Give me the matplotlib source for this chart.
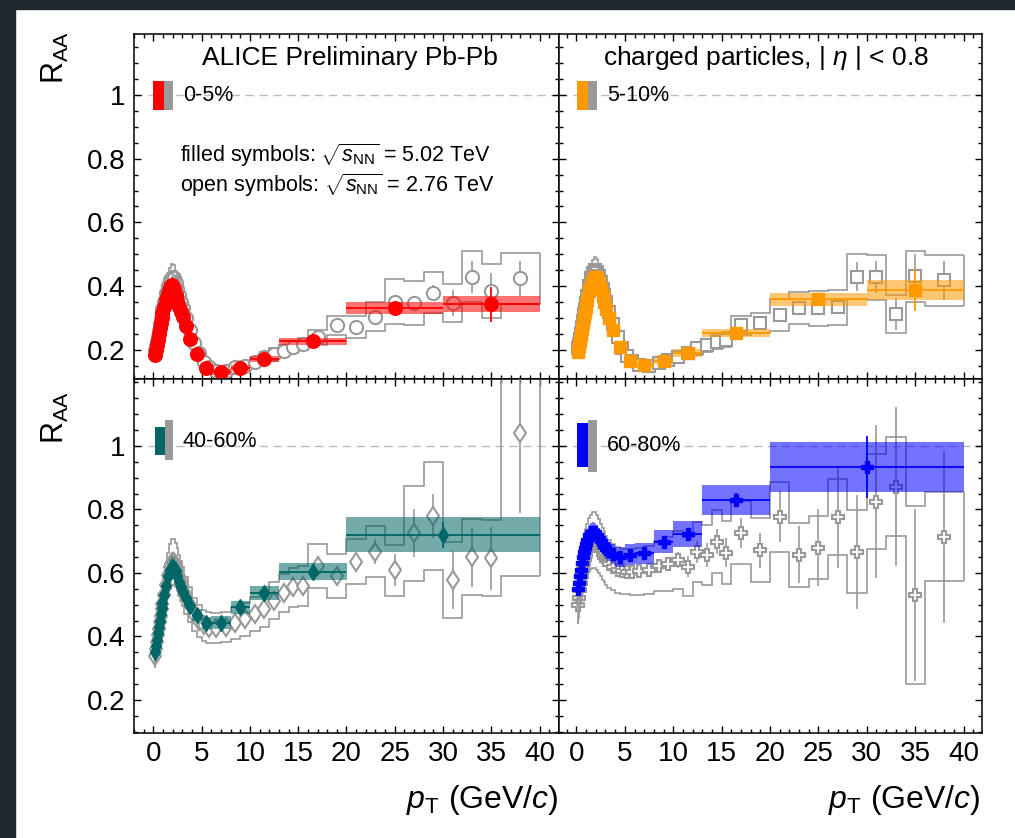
import numpy as np
import matplotlib
matplotlib.use("Agg")
import matplotlib.pyplot as plt
from matplotlib.patches import Rectangle
from matplotlib.ticker import MultipleLocator, FixedLocator

plt.rcParams['font.family'] = ['Liberation Sans', 'DejaVu Sans']
plt.rcParams['mathtext.fontset'] = 'custom'
plt.rcParams['mathtext.rm'] = 'Liberation Sans'
plt.rcParams['mathtext.it'] = 'Liberation Sans:italic'

# ---- 5.02 TeV (filled symbols): bin edges, R_AA, stat, sys
edges502_a = [0.15, 0.2, 0.3, 0.4, 0.5, 0.6, 0.7, 0.8, 0.9, 1.0, 1.2, 1.4, 1.6, 1.8, 2.0, 2.2, 2.4, 2.6,
              2.8, 3.0, 3.2, 3.6, 4.0, 5.0, 6.0, 8.0, 10.0, 13.0, 20.0, 30.0, 40.0]
edges502_b = [0.15, 0.2, 0.3, 0.4, 0.5, 0.6, 0.7, 0.8, 0.9, 1.0, 1.2, 1.4, 1.6, 1.8, 2.0, 2.2, 2.4, 2.6,
              2.8, 3.0, 3.2, 3.6, 4.0, 5.0, 6.0, 8.0, 10.0, 13.0, 20.0, 40.0]

raa502_0_5 = [0.185, 0.200, 0.215, 0.232, 0.250, 0.268, 0.285, 0.300, 0.315, 0.335, 0.360, 0.380, 0.396, 0.403,
              0.392, 0.372, 0.352, 0.334, 0.318, 0.303, 0.276, 0.234, 0.186, 0.143, 0.130, 0.143, 0.172, 0.227,
              0.332, 0.344]
stat502_0_5 = [0.002, 0.002, 0.002, 0.002, 0.002, 0.002, 0.002, 0.002, 0.002, 0.002, 0.002, 0.002, 0.002, 0.002,
               0.002, 0.002, 0.002, 0.002, 0.002, 0.002, 0.002, 0.002, 0.002, 0.002, 0.003, 0.003, 0.004, 0.006,
               0.018, 0.055]
sys502_0_5 = [0.013, 0.014, 0.015, 0.016, 0.017, 0.018, 0.019, 0.020, 0.021, 0.022, 0.023, 0.024, 0.025, 0.025,
              0.025, 0.024, 0.023, 0.022, 0.021, 0.020, 0.018, 0.015, 0.012, 0.010, 0.009, 0.009, 0.010, 0.010,
              0.020, 0.026]

raa502_5_10 = [0.195, 0.210, 0.228, 0.247, 0.266, 0.285, 0.303, 0.320, 0.335, 0.357, 0.385, 0.405, 0.420, 0.428,
               0.425, 0.410, 0.390, 0.370, 0.350, 0.330, 0.300, 0.263, 0.210, 0.165, 0.153, 0.166, 0.191, 0.254,
               0.359, 0.388]
stat502_5_10 = [0.002, 0.002, 0.002, 0.002, 0.002, 0.002, 0.002, 0.002, 0.002, 0.002, 0.002, 0.002, 0.002, 0.002,
                0.002, 0.002, 0.002, 0.002, 0.002, 0.002, 0.002, 0.002, 0.002, 0.002, 0.003, 0.003, 0.004, 0.006,
                0.017, 0.065]
sys502_5_10 = [0.014, 0.015, 0.016, 0.017, 0.018, 0.019, 0.020, 0.021, 0.022, 0.023, 0.025, 0.026, 0.027, 0.027,
               0.027, 0.026, 0.025, 0.024, 0.022, 0.021, 0.019, 0.016, 0.013, 0.011, 0.010, 0.010, 0.012, 0.012,
               0.020, 0.030]

raa502_40_60 = [0.350, 0.370, 0.390, 0.410, 0.430, 0.450, 0.470, 0.490, 0.505, 0.530, 0.560, 0.590, 0.610, 0.620,
                0.615, 0.605, 0.590, 0.572, 0.556, 0.540, 0.520, 0.496, 0.468, 0.442, 0.443, 0.492, 0.536, 0.604,
                0.720]
stat502_40_60 = [0.003, 0.003, 0.003, 0.003, 0.003, 0.003, 0.003, 0.003, 0.003, 0.003, 0.003, 0.003, 0.003, 0.003,
                 0.003, 0.003, 0.003, 0.003, 0.003, 0.003, 0.003, 0.003, 0.004, 0.004, 0.005, 0.006, 0.008, 0.012,
                 0.040]
sys502_40_60 = [0.022, 0.023, 0.024, 0.025, 0.026, 0.027, 0.028, 0.029, 0.030, 0.031, 0.032, 0.033, 0.034, 0.034,
                0.034, 0.033, 0.032, 0.031, 0.030, 0.029, 0.027, 0.025, 0.020, 0.020, 0.020, 0.020, 0.022, 0.026,
                0.055]

raa502_60_80 = [0.550, 0.570, 0.590, 0.610, 0.630, 0.650, 0.665, 0.680, 0.690, 0.705, 0.720, 0.728, 0.730, 0.728,
                0.720, 0.710, 0.700, 0.690, 0.682, 0.675, 0.668, 0.660, 0.651, 0.657, 0.662, 0.699, 0.723, 0.830,
                0.933]
stat502_60_80 = [0.004, 0.004, 0.004, 0.004, 0.004, 0.004, 0.004, 0.004, 0.004, 0.004, 0.004, 0.004, 0.004, 0.004,
                 0.004, 0.004, 0.004, 0.004, 0.004, 0.004, 0.004, 0.005, 0.005, 0.006, 0.007, 0.010, 0.015, 0.023,
                 0.097]
sys502_60_80 = [0.028, 0.029, 0.030, 0.030, 0.031, 0.031, 0.031, 0.031, 0.031, 0.031, 0.031, 0.031, 0.031, 0.031,
                0.031, 0.031, 0.031, 0.031, 0.031, 0.031, 0.031, 0.031, 0.032, 0.033, 0.033, 0.037, 0.040, 0.046,
                0.078]

# ---- 2.76 TeV (open symbols)
edges276 = [0.15, 0.2, 0.3, 0.4, 0.5, 0.6, 0.7, 0.8, 0.9, 1.0, 1.2, 1.4, 1.6, 1.8, 2.0, 2.2, 2.4, 2.6, 2.8, 3.0,
            3.2, 3.6, 4.0, 4.5, 5.0, 5.5, 6.0, 7.0, 8.0, 9.0, 10.0, 11.0, 12.0, 13.0, 14.0, 15.0, 16.0, 18.0, 20.0,
            22.0, 24.0, 26.0, 28.0, 30.0, 32.0, 34.0, 36.0, 40.0]

raa276_0_5 = [0.200, 0.212, 0.226, 0.242, 0.260, 0.280, 0.298, 0.315, 0.330, 0.352, 0.380, 0.402, 0.420, 0.430,
              0.425, 0.410, 0.392, 0.372, 0.352, 0.332, 0.300, 0.262, 0.222, 0.190, 0.162, 0.146, 0.133, 0.135,
              0.146, 0.151, 0.161, 0.177, 0.188, 0.198, 0.208, 0.219, 0.240, 0.278, 0.273, 0.305, 0.352, 0.347,
              0.380, 0.347, 0.430, 0.385, 0.425]
stat276_0_5 = [0.002, 0.002, 0.002, 0.002, 0.002, 0.002, 0.002, 0.002, 0.002, 0.002, 0.002, 0.002, 0.002, 0.002,
               0.002, 0.002, 0.002, 0.002, 0.002, 0.002, 0.002, 0.002, 0.002, 0.002, 0.002, 0.002, 0.002, 0.002,
               0.003, 0.003, 0.004, 0.004, 0.005, 0.005, 0.006, 0.006, 0.006, 0.008, 0.010, 0.012, 0.018, 0.020,
               0.025, 0.040, 0.050, 0.055, 0.055]
sys276_0_5 = [0.018, 0.019, 0.020, 0.022, 0.023, 0.025, 0.027, 0.028, 0.030, 0.032, 0.034, 0.036, 0.038, 0.040,
              0.040, 0.038, 0.036, 0.034, 0.032, 0.030, 0.027, 0.024, 0.020, 0.017, 0.015, 0.013, 0.012, 0.012,
              0.013, 0.014, 0.015, 0.016, 0.017, 0.018, 0.019, 0.020, 0.024, 0.030, 0.035, 0.045, 0.070, 0.070,
              0.065, 0.060, 0.080, 0.085, 0.080]

raa276_5_10 = [0.205, 0.218, 0.234, 0.252, 0.272, 0.292, 0.312, 0.330, 0.346, 0.370, 0.400, 0.425, 0.442, 0.450,
               0.446, 0.432, 0.412, 0.392, 0.372, 0.352, 0.320, 0.280, 0.240, 0.205, 0.180, 0.165, 0.152, 0.150,
               0.158, 0.168, 0.178, 0.190, 0.205, 0.215, 0.225, 0.232, 0.278, 0.284, 0.310, 0.333, 0.331, 0.334,
               0.430, 0.428, 0.313, 0.432, 0.418]
stat276_5_10 = [0.002, 0.002, 0.002, 0.002, 0.002, 0.002, 0.002, 0.002, 0.002, 0.002, 0.002, 0.002, 0.002, 0.002,
                0.002, 0.002, 0.002, 0.002, 0.002, 0.002, 0.002, 0.002, 0.002, 0.002, 0.002, 0.002, 0.003, 0.003,
                0.003, 0.004, 0.004, 0.005, 0.006, 0.006, 0.007, 0.008, 0.010, 0.012, 0.014, 0.016, 0.020, 0.022,
                0.045, 0.050, 0.050, 0.070, 0.060]
sys276_5_10 = [0.019, 0.020, 0.021, 0.023, 0.025, 0.027, 0.028, 0.030, 0.031, 0.033, 0.036, 0.038, 0.040, 0.041,
               0.040, 0.039, 0.037, 0.035, 0.033, 0.032, 0.029, 0.025, 0.022, 0.019, 0.017, 0.015, 0.014, 0.014,
               0.015, 0.016, 0.017, 0.018, 0.020, 0.021, 0.022, 0.023, 0.030, 0.032, 0.050, 0.050, 0.055, 0.055,
               0.070, 0.070, 0.060, 0.080, 0.080]

raa276_40_60 = [0.340, 0.360, 0.382, 0.404, 0.425, 0.446, 0.466, 0.486, 0.503, 0.530, 0.562, 0.594, 0.620, 0.635,
                0.635, 0.625, 0.610, 0.592, 0.575, 0.557, 0.530, 0.500, 0.470, 0.448, 0.435, 0.428, 0.426, 0.430,
                0.442, 0.455, 0.471, 0.486, 0.513, 0.536, 0.555, 0.559, 0.622, 0.591, 0.636, 0.667, 0.609, 0.725,
                0.780, 0.578, 0.651, 0.646, 1.040]
stat276_40_60 = [0.003, 0.003, 0.003, 0.003, 0.003, 0.003, 0.003, 0.003, 0.003, 0.003, 0.003, 0.003, 0.003, 0.003,
                 0.003, 0.003, 0.003, 0.003, 0.003, 0.003, 0.003, 0.003, 0.003, 0.003, 0.004, 0.004, 0.004, 0.005,
                 0.006, 0.007, 0.008, 0.009, 0.010, 0.011, 0.012, 0.013, 0.020, 0.025, 0.030, 0.040, 0.050, 0.075,
                 0.070, 0.090, 0.095, 0.100, 0.250]
sys276_40_60 = [0.040, 0.042, 0.044, 0.047, 0.050, 0.052, 0.055, 0.057, 0.060, 0.062, 0.065, 0.068, 0.070, 0.072,
                0.072, 0.070, 0.068, 0.066, 0.064, 0.062, 0.058, 0.055, 0.052, 0.050, 0.049, 0.048, 0.048, 0.048,
                0.050, 0.052, 0.054, 0.056, 0.058, 0.060, 0.062, 0.063, 0.070, 0.070, 0.070, 0.080, 0.080, 0.150,
                0.170, 0.120, 0.120, 0.120, 0.450]

raa276_60_80 = [0.500, 0.520, 0.545, 0.570, 0.590, 0.610, 0.628, 0.645, 0.658, 0.672, 0.688, 0.698, 0.704, 0.703,
                0.695, 0.685, 0.672, 0.660, 0.650, 0.640, 0.628, 0.618, 0.610, 0.606, 0.604, 0.604, 0.605, 0.609,
                0.622, 0.628, 0.641, 0.620, 0.667, 0.657, 0.699, 0.664, 0.727, 0.672, 0.777, 0.657, 0.680, 0.777,
                0.667, 0.825, 0.872, 0.531, 0.714]
stat276_60_80 = [0.005, 0.005, 0.005, 0.005, 0.005, 0.005, 0.005, 0.005, 0.005, 0.005, 0.005, 0.005, 0.005, 0.005,
                 0.005, 0.005, 0.005, 0.005, 0.005, 0.005, 0.005, 0.006, 0.006, 0.007, 0.008, 0.009, 0.010, 0.012,
                 0.015, 0.020, 0.025, 0.032, 0.035, 0.038, 0.040, 0.045, 0.047, 0.055, 0.080, 0.090, 0.120, 0.160,
                 0.180, 0.240, 0.250, 0.270, 0.270]
sys276_60_80 = [0.060, 0.062, 0.065, 0.068, 0.070, 0.073, 0.076, 0.078, 0.080, 0.082, 0.084, 0.086, 0.087, 0.088,
                0.087, 0.085, 0.083, 0.081, 0.079, 0.077, 0.075, 0.073, 0.072, 0.071, 0.071, 0.072, 0.073, 0.075,
                0.080, 0.085, 0.090, 0.092, 0.095, 0.095, 0.100, 0.100, 0.100, 0.100, 0.110, 0.100, 0.100, 0.120,
                0.130, 0.150, 0.155, 0.280, 0.140]

labels = ["0-5%", "5-10%", "40-60%", "60-80%"]
colors = ["#ff0000", "#ff9900", "#006666", "#0000ff"]
GRAY = "#999999"


def draw_panel(ax, e5, r5, st5, sy5, col, mk5, ms5, r2, st2, sy2, mk2, ms2):
    e = np.array(edges276)
    r2 = np.array(r2)
    sy2 = np.array(sy2)
    x2 = (e[:-1] + e[1:]) / 2
    # 2.76 TeV systematic outline
    ax.stairs(r2 + sy2, e, baseline=None, color=GRAY, lw=1.2, zorder=2)
    ax.stairs(r2 - sy2, e, baseline=None, color=GRAY, lw=1.2, zorder=2)
    ax.vlines([e[0], e[-1]], [r2[0] - sy2[0], r2[-1] - sy2[-1]],
              [r2[0] + sy2[0], r2[-1] + sy2[-1]], color=GRAY, lw=1.2, zorder=2)
    ax.errorbar(x2, r2, yerr=st2, fmt='none', ecolor=GRAY, elinewidth=1.2, capsize=0, zorder=3)
    dense = x2 < 3.2
    ax.plot(x2[dense], r2[dense], mk2, ms=ms2, mfc='none', mec=GRAY, mew=1.5, zorder=3)
    ax.plot(x2[~dense], r2[~dense], mk2, ms=ms2, mfc='white', mec=GRAY, mew=1.5, zorder=3)
    # 5.02 TeV
    e5 = np.array(e5)
    lo, hi = e5[:-1], e5[1:]
    x5 = (lo + hi) / 2
    r5 = np.array(r5)
    sy5 = np.array(sy5)
    ax.bar(x5, 2 * sy5, bottom=r5 - sy5, width=hi - lo, color=col, alpha=0.55, lw=0, zorder=4)
    ax.errorbar(x5, r5, xerr=[x5 - lo, hi - x5], yerr=st5, fmt=mk5, ms=ms5, color=col,
                mec=col, elinewidth=1.3, capsize=0, zorder=5)


fig = plt.figure(figsize=(10.15, 8.38), dpi=100)
fig.patches.append(Rectangle((0, 1 - 9 / 838), 1, 9 / 838, transform=fig.transFigure,
                             color="#1f262d", zorder=-5))
fig.patches.append(Rectangle((0, 0), 15 / 1015, 1, transform=fig.transFigure,
                             color="#1f262d", zorder=-5))

W, H = 1015, 838
ax_tl = fig.add_axes([134 / W, 1 - 379 / H, 425 / W, 345 / H])
ax_tr = fig.add_axes([559 / W, 1 - 379 / H, 423 / W, 345 / H])
ax_bl = fig.add_axes([134 / W, 1 - 733 / H, 425 / W, 354 / H])
ax_br = fig.add_axes([559 / W, 1 - 733 / H, 423 / W, 354 / H])

draw_panel(ax_tl, edges502_a, raa502_0_5, stat502_0_5, sys502_0_5, colors[0], 'o', 9.8,
           raa276_0_5, stat276_0_5, sys276_0_5, 'o', 9.5)
draw_panel(ax_tr, edges502_a, raa502_5_10, stat502_5_10, sys502_5_10, colors[1], 's', 8.8,
           raa276_5_10, stat276_5_10, sys276_5_10, 's', 8.5)
draw_panel(ax_bl, edges502_b, raa502_40_60, stat502_40_60, sys502_40_60, colors[2], 'd', 8.5,
           raa276_40_60, stat276_40_60, sys276_40_60, 'd', 9.5)
draw_panel(ax_br, edges502_b, raa502_60_80, stat502_60_80, sys502_60_80, colors[3], 'P', 8,
           raa276_60_80, stat276_60_80, sys276_60_80, 'P', 9)

for ax, top, left in [(ax_tl, True, True), (ax_tr, True, False), (ax_bl, False, True), (ax_br, False, False)]:
    ax.set_xlim(-2.0 if left else -1.8, 42.0 if left else 41.9)
    if top:
        ax.set_ylim(0.109, 1.191)
    else:
        ax.set_ylim(0.096, 1.211)
    ax.axhline(1.0, color="#bbbbbb", lw=1.0, ls=(0, (6, 4)), zorder=1)
    ax.xaxis.set_major_locator(FixedLocator([0, 5, 10, 15, 20, 25, 30, 35, 40]))
    ax.xaxis.set_minor_locator(MultipleLocator(1))
    ax.yaxis.set_major_locator(FixedLocator([0.2, 0.4, 0.6, 0.8, 1.0]))
    ax.yaxis.set_minor_locator(MultipleLocator(0.05))
    ax.tick_params(which='both', direction='in', top=True, right=True, width=1.0, labelsize=20, pad=6)
    ax.tick_params(which='major', length=5)
    ax.tick_params(which='minor', length=2.8)
    for sp in ax.spines.values():
        sp.set_linewidth(1.1)
    if left:
        ax.set_yticklabels(["0.2", "0.4", "0.6", "0.8", "1"])
    else:
        ax.set_yticklabels([])
    if top:
        ax.set_xticklabels([])
    else:
        ax.set_xticklabels(["0", "5", "10", "15", "20", "25", "30", "35", "40"])


# legend swatches
def swatch(ax, col, x0, x1, x2, yc, yg, text):
    ax.add_patch(Rectangle((x0, yc[0]), x1 - x0, yc[1] - yc[0], transform=ax.transAxes,
                           color=col, lw=0, zorder=6))
    ax.add_patch(Rectangle((x1, yg[0]), x2 - x1, yg[1] - yg[0], transform=ax.transAxes,
                           color=GRAY, lw=0, zorder=6))
    ax.text(x2 + 0.023, (yc[0] + yc[1]) / 2, text, transform=ax.transAxes, fontsize=15.5,
            ha='left', va='center', zorder=7)


swatch(ax_tl, colors[0], 0.045, 0.071, 0.092, (0.78, 0.865), (0.78, 0.865), labels[0])
swatch(ax_tr, colors[1], 0.043, 0.069, 0.090, (0.78, 0.865), (0.78, 0.865), labels[1])
swatch(ax_bl, colors[2], 0.049, 0.073, 0.092, (0.785, 0.864), (0.770, 0.883), labels[2])
swatch(ax_br, colors[3], 0.043, 0.069, 0.090, (0.751, 0.876), (0.737, 0.884), labels[3])

ax_tl.text(0.508, 0.93, "ALICE Preliminary Pb-Pb", transform=ax_tl.transAxes, fontsize=19,
           ha='center', va='center')
ax_tr.text(0.489, 0.93, r"charged particles, | $\eta$ | < 0.8", transform=ax_tr.transAxes, fontsize=19,
           ha='center', va='center')
ax_tl.text(0.108, 0.649, r"filled symbols: $\sqrt{s_{\rm NN}}$ = 5.02 TeV", transform=ax_tl.transAxes,
           fontsize=15.5, ha='left', va='center')
ax_tl.text(0.108, 0.562, r"open symbols: $\sqrt{s_{\rm NN}}$ = 2.76 TeV", transform=ax_tl.transAxes,
           fontsize=15.5, ha='left', va='center')

fig.text(55 / W, 1 - 58 / H, r"R$_{\rm AA}$", rotation=90, fontsize=22, ha='center', va='center')
fig.text(55 / W, 1 - 418 / H, r"R$_{\rm AA}$", rotation=90, fontsize=22, ha='center', va='center')
fig.text(558 / W, 1 - 800 / H, r"$p_{\rm T}$ (GeV/$c$)", fontsize=23, ha='right', va='center')
fig.text(980 / W, 1 - 800 / H, r"$p_{\rm T}$ (GeV/$c$)", fontsize=23, ha='right', va='center')

fig.savefig("out.png", dpi=100)
